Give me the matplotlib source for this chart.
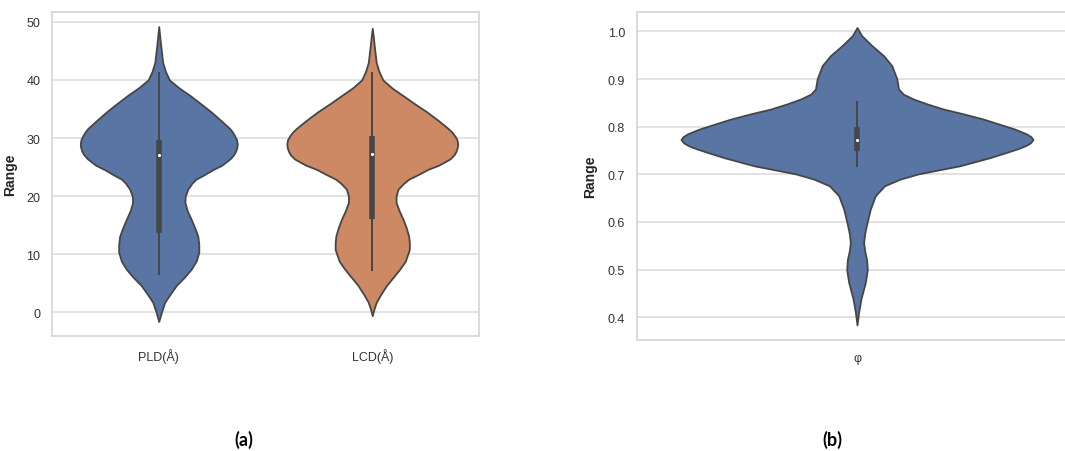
import colorsys
import numpy as np
import matplotlib
matplotlib.use("Agg")
import matplotlib.pyplot as plt
import matplotlib.colors as mcolors

# violin outlines: value levels and relative half-widths
pld_levels = [-1.6, 0.0, 1.7, 3.0, 4.6, 6.0, 7.4, 8.8, 10.3, 11.7, 13.1, 14.5, 16.0, 17.5,
              18.9, 20.0, 21.2, 22.2, 22.9, 23.6, 24.6, 25.3, 26.4, 27.1, 27.7, 28.4, 29.0,
              29.7, 30.3, 31.0, 31.6, 33.0, 34.5, 35.9, 37.3, 38.6, 40.0, 41.5, 43.0, 45.9,
              47.5, 49.2]
pld_density = [0, 8, 18, 33, 53, 77, 98, 113, 121, 121, 118, 109, 98, 86,
               79, 80, 88, 100, 112, 135, 165, 190, 215, 226, 232, 236, 237,
               235, 230, 223, 215, 188, 158, 127, 95, 62, 32, 20, 12, 6,
               3, 0]

lcd_levels = [-0.6, 0.5, 1.7, 3.0, 4.6, 6.0, 7.4, 8.8, 10.8, 12.0, 13.1, 14.5, 16.0, 17.5,
              18.9, 20.0, 21.2, 22.2, 22.9, 23.6, 24.6, 25.3, 26.4, 27.1, 27.7, 28.4, 29.0,
              29.7, 30.3, 31.0, 31.6, 33.0, 34.5, 35.9, 37.3, 38.6, 40.0, 41.5, 43.0, 45.9,
              47.5, 48.9]
lcd_density = [0, 5, 12, 25, 43, 63, 83, 100, 112, 112, 110, 103, 93, 81,
               72, 72, 78, 95, 110, 135, 168, 200, 235, 247, 253, 257, 258,
               256, 250, 241, 230, 200, 165, 128, 93, 60, 32, 20, 12, 6,
               3, 0]

phi_levels = [0.384, 0.411, 0.439, 0.473, 0.500, 0.521, 0.540, 0.557, 0.575, 0.592, 0.627,
              0.655, 0.676, 0.690, 0.701, 0.718, 0.735, 0.746, 0.754, 0.760, 0.766, 0.773,
              0.779, 0.785, 0.795, 0.805, 0.816, 0.827, 0.837, 0.848, 0.858, 0.868, 0.879,
              0.900, 0.928, 0.949, 0.970, 0.991, 1.008]
phi_density = [0, 5, 12, 25, 31, 29, 23, 20, 23, 28, 40,
               55, 83, 130, 185, 310, 400, 450, 485, 507, 522, 530,
               524, 510, 475, 430, 380, 320, 260, 210, 170, 140, 125,
               120, 105, 80, 45, 14, 0]

# inner box stats: whisker low, q1, median, q3, whisker high
pld_box = [6.4, 13.7, 27.0, 29.6, 41.3]
lcd_box = [7.1, 16.0, 27.3, 30.3, 41.4]
phi_box = [0.715, 0.750, 0.773, 0.799, 0.854]

labels_a = ["PLD(Å)", "LCD(Å)"]
labels_b = ["φ"]


def desat(c, prop=0.75):
    h, l, s = colorsys.rgb_to_hls(*mcolors.to_rgb(c))
    return colorsys.hls_to_rgb(h, l, s * prop)


BLUE = desat("#4c72b0")
ORANGE = desat("#dd8452")
EDGE = "#464646"
GRID = "#dadada"

plt.rcParams["font.family"] = ["Liberation Sans", "DejaVu Sans"]


def style_axes(ax):
    ax.set_facecolor("white")
    ax.grid(axis="y", color=GRID, lw=1.1)
    ax.set_axisbelow(True)
    for s in ax.spines.values():
        s.set_color("#d4d4d4")
        s.set_linewidth(1.2)
    ax.tick_params(length=0, labelsize=9, labelcolor="#333333", pad=8.5)


def draw_violins(ax, levels, dens, boxes, colors, widths):
    stats = []
    for lv, dn, bx in zip(levels, dens, boxes):
        stats.append({"coords": np.array(lv), "vals": np.array(dn, dtype=float),
                      "mean": bx[2], "median": bx[2], "min": lv[0], "max": lv[-1]})
    pos = list(range(len(levels)))
    parts = ax.violin(stats, positions=pos, widths=widths, showextrema=False)
    for body, c in zip(parts["bodies"], colors):
        body.set_facecolor(c)
        body.set_edgecolor(EDGE)
        body.set_linewidth(1.3)
        body.set_joinstyle("round")
        body.set_alpha(1)
    for p, bx in zip(pos, boxes):
        ax.vlines(p, bx[0], bx[4], color=EDGE, lw=1.4, zorder=3)
        ax.vlines(p, bx[1], bx[3], color=EDGE, lw=4.0, zorder=3)
        ax.scatter([p], [bx[2]], s=5, color="white", zorder=4, linewidths=0)
    ax.set_xticks(pos)


fig = plt.figure(figsize=(10.65, 4.52), dpi=100)

ax1 = fig.add_axes([52 / 1065, 115 / 452, 427 / 1065, 324 / 452])
style_axes(ax1)
draw_violins(ax1, [pld_levels, lcd_levels], [pld_density, lcd_density],
             [pld_box, lcd_box], [BLUE, ORANGE], [0.735, 0.8])
ax1.set_xticklabels(labels_a, fontsize=9)
ax1.set_xlim(-0.5, 1.5)
ax1.set_ylim(-4.1, 51.7)
ax1.set_yticks([0, 10, 20, 30, 40, 50])
ax1.set_ylabel("Range", fontsize=10, fontweight="bold", color="#222222")
ax1.yaxis.set_label_coords(-0.082, 0.5)

ax2 = fig.add_axes([637 / 1065, 111.3 / 452, 440 / 1065, 327.4 / 452])
style_axes(ax2)
draw_violins(ax2, [phi_levels], [phi_density], [phi_box], [BLUE], [0.8])
ax2.set_xticklabels(labels_b, fontsize=9)
ax2.set_xlim(-0.5, 0.5)
ax2.set_ylim(0.353, 1.04)
ax2.set_yticks([0.4, 0.5, 0.6, 0.7, 0.8, 0.9, 1.0])
ax2.set_ylabel("Range", fontsize=10, fontweight="bold", color="#222222")
ax2.yaxis.set_label_coords(-0.091, 0.5)

fig.text(244 / 1065, 1 - 440 / 452, "(a)", ha="center", va="center",
         fontsize=13, fontweight="bold", family=["Lato", "DejaVu Sans"])
fig.text(832 / 1065, 1 - 440 / 452, "(b)", ha="center", va="center",
         fontsize=13, fontweight="bold", family=["Lato", "DejaVu Sans"])

fig.savefig("out.png", dpi=100, facecolor="white")
